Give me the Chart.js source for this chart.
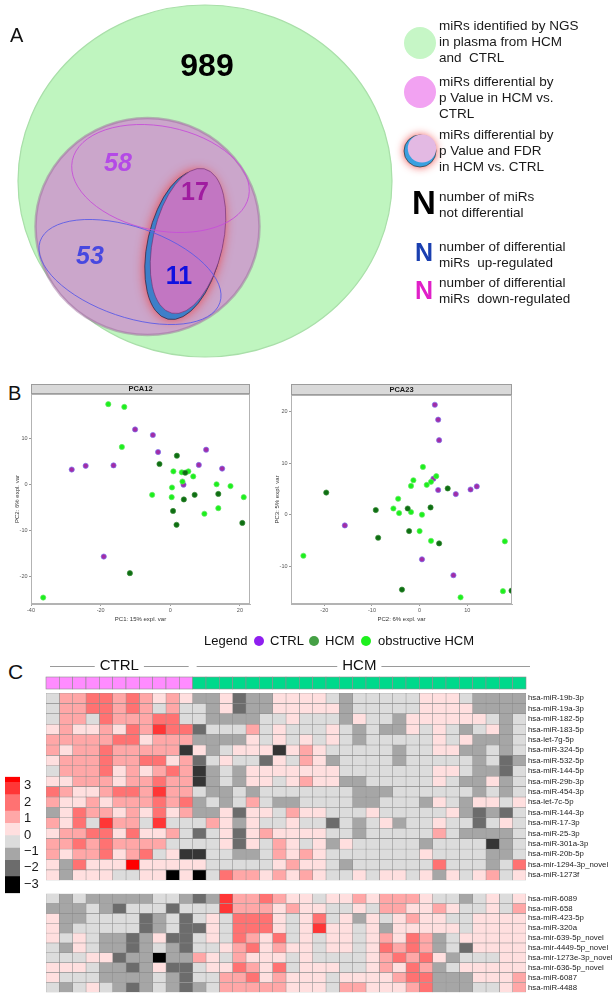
<!DOCTYPE html>
<html>
<head>
<meta charset="utf-8">
<script src="https://cdn.jsdelivr.net/npm/chart.js@4.4.1/dist/chart.umd.min.js"></script>
<style>
  html, body { margin: 0; padding: 0; background: #fff; }
  body { width: 613px; height: 999px; position: relative; overflow: hidden; font-family: 'Liberation Sans', Arial, sans-serif; }
  canvas { position: absolute; }
  .lbl { position: absolute; color: #111; line-height: 1; }
  .leg { position: absolute; top: 633px; font-size: 13px; line-height: 16px; color: #111; white-space: nowrap; }
  .dot { position: absolute; top: 636px; width: 10px; height: 10px; border-radius: 50%; }
</style>
</head>
<body>
<canvas id="venn" width="613" height="380" style="left:0;top:0"></canvas>
<div class="lbl" style="left:8px;top:383px;font-size:20px">B</div>
<canvas id="pca12" width="256" height="255" style="left:0;top:380px"></canvas>
<canvas id="pca23" width="262" height="255" style="left:256px;top:380px"></canvas>
<div class="leg" style="left:204px">Legend</div>
<div class="dot" style="left:254px;background:#8f1fef"></div>
<div class="leg" style="left:270px">CTRL</div>
<div class="dot" style="left:309px;background:#45a045"></div>
<div class="leg" style="left:325px">HCM</div>
<div class="dot" style="left:361px;background:#1ef01e"></div>
<div class="leg" style="left:378px">obstructive HCM</div>
<div class="lbl" style="left:8px;top:661px;font-size:21px">C</div>
<canvas id="heatTop" width="613" height="232" style="left:0;top:655px"></canvas>
<canvas id="heatBottom" width="613" height="112" style="left:0;top:887px"></canvas>
<canvas id="scaleBar" width="46" height="140" style="left:0;top:765px"></canvas>
<script>
// ---- Panel A: Venn counts ----
const vennCounts = [989, 58, 17, 53, 11];

// ---- Panel B: PCA scores [x, y] ----
const pca12Ctrl = [[-10.1,11.9],[-5.0,10.7],[-3.5,7.0],[10.3,7.5],[8.2,4.2],[14.9,3.4],[3.8,-0.1],[-28.3,3.2],[-24.3,4.0],[-16.3,4.1],[-19.1,-15.7]];
const pca12Hcm = [[1.9,6.2],[-3.1,4.4],[4.3,2.5],[3.9,-3.3],[7.0,-2.3],[13.8,-2.1],[0.8,-5.8],[1.8,-8.8],[20.7,-8.4],[-11.6,-19.3]];
const pca12Obs = [[-17.8,17.4],[-13.2,16.8],[-13.9,8.1],[0.9,2.8],[3.3,2.6],[5.2,2.8],[6.6,1.7],[3.5,0.6],[0.5,-0.7],[-5.2,-2.3],[0.4,-2.8],[13.3,0],[17.3,-0.4],[21.1,-2.8],[13.8,-5.2],[9.8,-6.4],[-36.5,-24.6]];
const pca23Ctrl = [[3.2,21.4],[3.9,18.5],[4.1,14.5],[2.9,7.0],[3.9,4.8],[7.6,4.0],[10.7,4.9],[12.0,5.5],[-15.7,-2.1],[0.5,-8.7],[7.1,-11.8]];
const pca23Hcm = [[-19.6,4.3],[-9.2,0.9],[-2.5,1.2],[2.3,1.4],[5.9,5.1],[-2.2,-3.2],[-8.7,-4.5],[4.1,-5.6],[-3.7,-14.6],[19.3,-14.8]];
const pca23Obs = [[0.7,9.3],[3.5,7.5],[2.4,6.4],[-1.3,6.7],[1.5,5.8],[-1.8,5.6],[-4.5,3.1],[-5.5,1.2],[-4.3,0.3],[-1.8,0.5],[0.5,0],[0,-3.2],[2.4,-5.1],[17.9,-5.2],[-24.4,-8.0],[17.5,-14.9],[8.6,-16.1]];
const pca12XTicks = [-40, -20, 0, 20];
const pca12YTicks = [-20, -10, 0, 10];
const pca23XTicks = [-20, -10, 0, 10];
const pca23YTicks = [-10, 0, 10, 20];

// ---- Panel C: heatmap (z-scores) ----
const groupNames = ['CTRL', 'HCM'];
const groupSizes = [11, 25];
const upperGenes = ['hsa-miR-19b-3p','hsa-miR-19a-3p','hsa-miR-182-5p','hsa-miR-183-5p','hsa-let-7g-5p','hsa-miR-324-5p','hsa-miR-532-5p','hsa-miR-144-5p','hsa-miR-29b-3p','hsa-miR-454-3p','hsa-let-7c-5p','hsa-miR-144-3p','hsa-miR-17-3p','hsa-miR-25-3p','hsa-miR-301a-3p','hsa-miR-20b-5p','hsa-mir-1294-3p_novel','hsa-miR-1273f'];
const lowerGenes = ['hsa-miR-6089','hsa-miR-658','hsa-miR-423-5p','hsa-miR-320a','hsa-mir-639-5p_novel','hsa-mir-4449-5p_novel','hsa-mir-1273e-3p_novel','hsa-mir-636-5p_novel','hsa-miR-6087','hsa-miR-4488'];
const upperValues = [
  [-0.4,1,1,2,2,1,2,1,0.4,1,0.4, -1,-1,0.4,-2,-1,-1,0.4,0.4,0.4,0.4,-0.4,-1,-0.4,-0.4,-0.4,-0.4,-0.4,0.4,0.4,0.4,-0.4,-1,-1,-1,-1],
  [-0.4,1,1,2,2,1,2,1,-0.4,1,-0.4, -0.4,-1,0.4,-2,-1,-1,0.4,0.4,0.4,0.4,0.4,-1,-0.4,-0.4,-0.4,-0.4,-0.4,0.4,0.4,0.4,0.4,-1,-1,-1,-1],
  [-0.4,1,1,-0.4,2,1,1,1,2,2,-0.4, -0.4,-1,-1,-1,-1,-0.4,-0.4,0.4,-0.4,-0.4,-0.4,-1,0.4,-0.4,-0.4,-1,0.4,0.4,0.4,0.4,0.4,0.4,-0.4,-1,-0.4],
  [0.4,1,0.4,0.4,1,0.4,2,1,3,2,2, -2,-0.4,-0.4,-0.4,1,-0.4,0.4,-0.4,-0.4,-0.4,0.4,-0.4,-1,-0.4,-1,-1,0.4,-0.4,0.4,-0.4,-1,-0.4,0.4,-1,-0.4],
  [1,1,1,1,1,2,2,0.4,1,1,1, -1,-1,-1,-1,0.4,-0.4,0.4,-0.4,0.4,-0.4,0.4,-0.4,-1,-0.4,-0.4,-0.4,-0.4,-0.4,0.4,-0.4,0.4,-1,-1,-1,-0.4],
  [1,0.4,1,1,2,1,1,1,1,1,-2.7, 0.4,-1,-0.4,0.4,0.4,0.4,-2.7,0.4,1,0.4,-0.4,-0.4,-0.4,-0.4,-0.4,-1,-0.4,-0.4,0.4,0.4,-1,-1,-0.4,-1,-0.4],
  [0.4,1,1,1,2,1,1,2,2,0.4,1, -2,-0.4,0.4,-0.4,-0.4,-2,0.4,-0.4,1,0.4,-1,-0.4,-0.4,-0.4,-0.4,-1,-0.4,-0.4,-0.4,-0.4,-0.4,-1,-0.4,-2,-1],
  [-0.4,1,1,1,2,0.4,1,0.4,1,2,1, -2.7,-1,-0.4,-1,0.4,0.4,0.4,0.4,0.4,0.4,0.4,-0.4,-0.4,-0.4,-0.4,-0.4,-0.4,-0.4,0.4,0.4,-0.4,-1,-1,-2,-0.4],
  [0.4,0.4,1,1,1,0.4,1,1,2,1,1, -2.7,-1,-0.4,-1,0.4,0.4,-0.4,0.4,1,0.4,0.4,-1,-1,-0.4,-0.4,-0.4,-0.4,-0.4,0.4,-0.4,-1,-1,0.4,-1,-0.4],
  [2,1,0.4,0.4,1,2,2,1,3,1,1, -0.4,-1,-1,-0.4,-1,-0.4,-0.4,-0.4,-0.4,-0.4,-0.4,-0.4,-1,-1,-1,-0.4,-0.4,-0.4,-0.4,-0.4,-0.4,-1,-0.4,-1,-0.4],
  [1,0.4,0.4,1,0.4,1,1,1,2,1,2, -1,-0.4,-1,-0.4,1,-0.4,-1,-1,-0.4,-0.4,-0.4,-0.4,-1,-1,-0.4,-0.4,-0.4,-1,0.4,-0.4,-1,0.4,0.4,-0.4,0.4],
  [-1,0.4,2,1,1,0.4,1,0.4,2,0.4,1, -1,-1,0.4,-2,0.4,0.4,-0.4,1,0.4,0.4,-0.4,-0.4,-0.4,0.4,-0.4,-0.4,-0.4,-0.4,-0.4,0.4,-1,-2,-1,-2,-0.4],
  [1,0.4,2,-0.4,3,1,1,-0.4,3,-0.4,-0.4, -0.4,1,0.4,-1,0.4,-0.4,-0.4,0.4,-0.4,-0.4,-2,-0.4,-1,-0.4,0.4,-1,-0.4,-0.4,0.4,-0.4,-0.4,-2,-0.4,0.4,-0.4],
  [0.4,1,1,2,2,0.4,2,0.4,0.4,1,-0.4, -2,-0.4,0.4,-2,0.4,1,0.4,0.4,0.4,0.4,-0.4,-0.4,-1,-0.4,-0.4,-0.4,-0.4,-0.4,1,-0.4,-1,-1,-1,-1,-0.4],
  [1,1,2,1,2,1,1,1,1,-0.4,-0.4, -0.4,-0.4,0.4,-2,0.4,-0.4,1,0.4,-0.4,0.4,-1,0.4,-0.4,-0.4,-0.4,-0.4,-0.4,-1,-0.4,-0.4,-0.4,-0.4,-2.7,-1,-0.4],
  [1,0.4,1,1,2,0.4,1,2,-0.4,0.4,-2.7, -2.7,-0.4,-0.4,-1,-1,-0.4,1,0.4,1,0.4,-0.4,-0.4,-0.4,-0.4,-0.4,-0.4,-0.4,0.4,-0.4,-0.4,-0.4,-0.4,-1,-1,-0.4],
  [0.4,-1,2,0.4,0.4,0.4,3.4,0.4,0.4,0.4,0.4, 0.4,-0.4,-0.4,-0.4,-0.4,-0.4,0.4,1,0.4,0.4,-0.4,-1,-0.4,-0.4,-0.4,-0.4,-0.4,-0.4,2,-0.4,-0.4,-0.4,-1,-0.4,2],
  [0.4,-1,0.4,0.4,0.4,-0.4,-0.4,0.4,0.4,-3.3,0.4, -3.3,-0.4,2,1,1,0.4,1,0.4,1,0.4,-0.4,-0.4,0.4,-0.4,0.4,0.4,-0.4,0.4,-1,0.4,-0.4,0.4,1,-0.4,0.4]
];
const lowerValues = [
  [-0.4,-1,-0.4,-1,-1,-1,-1,-1,-0.4,-0.4,-1, -2,-1,3,1,1,2,1,0.4,0.4,-0.4,0.4,0.4,1,0.4,1,1,1,0.4,-0.4,-0.4,-1,-0.4,0.4,-0.4,0.4],
  [-1,-1,-1,-0.4,-1,-2,-0.4,-0.4,-0.4,-2,-0.4, -0.4,-0.4,3,1,1,1,0.4,1,0.4,0.4,-0.4,-0.4,0.4,-0.4,1,1,0.4,0.4,1,0.4,-0.4,-0.4,0.4,-0.4,1],
  [0.4,-1,-1,-0.4,-0.4,-0.4,-0.4,-2,-1,-0.4,-2, -0.4,0.4,-0.4,2,2,2,0.4,-0.4,0.4,2,-0.4,0.4,-1,0.4,-0.4,0.4,1,0.4,0.4,-0.4,-0.4,0.4,0.4,0.4,0.4],
  [0.4,-1,-0.4,-0.4,-0.4,-0.4,-0.4,-2,-1,-0.4,-2, -2,0.4,-0.4,2,2,2,0.4,-0.4,0.4,3,0.4,0.4,-0.4,0.4,-1,0.4,0.4,0.4,0.4,0.4,-0.4,0.4,0.4,0.4,0.4],
  [0.4,-0.4,0.4,-0.4,-1,-1,-2,-1,0.4,-2,-2, -0.4,0.4,-0.4,2,1,0.4,2,-0.4,0.4,-0.4,0.4,0.4,-0.4,0.4,1,0.4,2,1,-1,-0.4,0.4,0.4,0.4,0.4,0.4],
  [-0.4,-1,0.4,-0.4,-1,-1,-2,-1,-0.4,-1,-2, -0.4,-0.4,0.4,1,2,0.4,1,0.4,0.4,-0.4,0.4,0.4,-0.4,0.4,2,1,2,1,-1,-0.4,-2,0.4,0.4,0.4,0.4],
  [-0.4,-0.4,-0.4,0.4,0.4,-2,-1,-1,-3.3,-1,-1, 1,0.4,-0.4,1,0.4,0.4,0.4,-0.4,0.4,-0.4,-0.4,-0.4,-0.4,0.4,1,2,1,2,0.4,-1,-0.4,-0.4,-0.4,0.4,0.4],
  [0.4,0.4,0.4,-0.4,-1,-1,-2,-1,0.4,-2,-2, -0.4,0.4,0.4,2,1,0.4,2,-0.4,0.4,0.4,0.4,-0.4,-0.4,0.4,1,0.4,2,1,-1,-0.4,0.4,0.4,0.4,0.4,0.4],
  [0.4,-0.4,-0.4,-0.4,-1,-1,-1,-1,-0.4,-1,-2, -0.4,-0.4,1,1,2,0.4,1,0.4,0.4,0.4,-0.4,0.4,0.4,0.4,0.4,1,2,2,-1,-1,-1,0.4,0.4,0.4,1],
  [-0.4,-1,-0.4,0.4,-0.4,-1,-2,-1,-0.4,-1,-2, -1,-0.4,1,1,1,1,1,0.4,0.4,0.4,-0.4,1,1,0.4,0.4,0.4,1,2,-1,-1,-1,-0.4,-0.4,0.4,1]
];
const scaleBreaks = [3.55, 3.25, 2.5, 1.5, 0.75, 0, -0.75, -1.5, -2.5, -3.55];
const scaleTicks = [-3, -2, -1, 0, 1, 2, 3];

const FONT = "'Liberation Sans', Arial, sans-serif";
Chart.defaults.font.family = FONT;

function cellColor(v) {
  if (v >= 3.2) return '#ff0000';
  if (v >= 2.5) return '#ff3636';
  if (v >= 1.5) return '#ff7272';
  if (v >= 0.7) return '#ffa7a7';
  if (v >= 0) return '#ffdfdf';
  if (v >= -0.7) return '#dcdcdc';
  if (v >= -1.5) return '#a6a6a6';
  if (v >= -2.4) return '#6c6c6c';
  if (v >= -3) return '#353535';
  return '#000000';
}

// ---------- Panel A ----------
const vennPlugin = {
  id: 'venn',
  afterDraw(chart) {
    const { ctx, scales: { x, y } } = chart;
    const ell = (cx, cy, rx, ry, rot) => {
      const px = x.getPixelForValue(cx), py = y.getPixelForValue(cy);
      ctx.beginPath();
      ctx.ellipse(px, py, Math.abs(x.getPixelForValue(cx + rx) - px), Math.abs(y.getPixelForValue(cy + ry) - py), rot || 0, 0, Math.PI * 2);
    };
    const text = (s, cx, cy, font, color, align) => {
      ctx.font = font; ctx.fillStyle = color; ctx.textAlign = align || 'center'; ctx.textBaseline = 'middle';
      ctx.fillText(s, x.getPixelForValue(cx), y.getPixelForValue(cy));
    };
    ctx.save();
    // all miRs
    ell(205, 181, 187, 176); ctx.fillStyle = '#bff5bf'; ctx.fill();
    ctx.strokeStyle = '#a9dfa9'; ctx.lineWidth = 1.2; ctx.stroke();
    // p value circle
    ell(147.5, 226.5, 112, 108.5); ctx.fillStyle = '#cba6cb'; ctx.fill();
    ctx.strokeStyle = 'rgba(150,100,150,0.45)'; ctx.lineWidth = 2.5; ctx.stroke();
    // FDR ellipse with glow and blue crescent
    ctx.shadowColor = 'rgba(238,60,60,0.95)'; ctx.shadowBlur = 11;
    ell(184.5, 245, 37, 76, 0.22); ctx.fillStyle = '#3d7fc9'; ctx.fill();
    ctx.shadowBlur = 0; ctx.shadowColor = 'transparent';
    ctx.strokeStyle = '#3a2a45'; ctx.lineWidth = 0.8; ctx.stroke();
    ell(188, 241, 35, 74, 0.22); ctx.fillStyle = '#c276c2'; ctx.fill();
    ctx.strokeStyle = '#6b2b6b'; ctx.lineWidth = 0.6; ctx.stroke();
    // up / down outlines
    ell(160.5, 178.5, 90, 52, 0.2); ctx.strokeStyle = '#c64fd8'; ctx.lineWidth = 0.9; ctx.stroke();
    ell(130, 272, 95, 45, 0.33); ctx.strokeStyle = '#5b5be6'; ctx.lineWidth = 0.9; ctx.stroke();
    // counts
    text('A', 10, 36, '20px ' + FONT, '#111', 'left');
    text(String(vennCounts[0]), 207, 67, 'bold 32px ' + FONT, '#000');
    text(String(vennCounts[1]), 118, 164, 'italic bold 25px ' + FONT, '#b44ae6');
    text(String(vennCounts[2]), 195, 193, 'bold 25px ' + FONT, '#a01ca0');
    text(String(vennCounts[3]), 90, 257, 'italic bold 25px ' + FONT, '#4848e0');
    text(String(vennCounts[4]), 179, 277, 'bold 25px ' + FONT, '#1010e0');
    // legend symbols
    ell(420, 43, 16, 16); ctx.fillStyle = '#c6f6c6'; ctx.fill();
    ell(420, 92, 16, 16); ctx.fillStyle = '#f2a2f2'; ctx.fill();
    ctx.shadowColor = 'rgba(238,60,60,0.95)'; ctx.shadowBlur = 8;
    ell(420, 151, 16, 16); ctx.fillStyle = '#3aa0e0'; ctx.fill();
    ctx.shadowBlur = 0; ctx.shadowColor = 'transparent';
    ctx.strokeStyle = '#333'; ctx.lineWidth = 0.7; ctx.stroke();
    ell(422, 148.5, 14.2, 14); ctx.fillStyle = '#e3b9e3'; ctx.fill();
    text('N', 424, 205, 'bold 33px ' + FONT, '#000');
    text('N', 424, 254, 'bold 25px ' + FONT, '#1a3fb0');
    text('N', 424, 292, 'bold 25px ' + FONT, '#e020c8');
    const lines = [
      [['miRs identified by NGS', 'in plasma from HCM', 'and  CTRL'], 26],
      [['miRs differential by', 'p Value in HCM vs.', 'CTRL'], 82],
      [['miRs differential by', 'p Value and FDR', 'in HCM vs. CTRL'], 135],
      [['number of miRs', 'not differential'], 197],
      [['number of differential', 'miRs  up-regulated'], 247],
      [['number of differential', 'miRs  down-regulated'], 283]
    ];
    lines.forEach(([ls, y0]) => ls.forEach((s, i) => text(s, 439, y0 + i * 16, '13.5px ' + FONT, '#1a1a1a', 'left')));
    ctx.restore();
  }
};

new Chart(document.getElementById('venn'), {
  type: 'scatter',
  data: { datasets: [] },
  options: {
    responsive: false, animation: false,
    layout: { padding: 0, autoPadding: false },
    plugins: { legend: { display: false }, tooltip: { enabled: false } },
    scales: {
      x: { display: false, min: 0, max: 613 },
      y: { display: false, min: 0, max: 380, reverse: true }
    }
  },
  plugins: [vennPlugin]
});

// ---------- Panel B ----------
const stripPlugin = {
  id: 'strip',
  afterDraw(chart, args, o) {
    const { ctx, chartArea: a } = chart;
    ctx.save();
    ctx.strokeStyle = '#b3b3b3'; ctx.lineWidth = 1;
    ctx.strokeRect(a.left + 0.5, a.top + 0.5, a.right - a.left - 1, a.bottom - a.top - 1);
    ctx.fillStyle = '#d9d9d9'; ctx.fillRect(a.left, a.top - o.h, a.right - a.left, o.h);
    ctx.strokeStyle = '#9c9c9c';
    ctx.strokeRect(a.left + 0.5, a.top - o.h + 0.5, a.right - a.left - 1, o.h - 1);
    ctx.fillStyle = '#1a1a1a'; ctx.font = 'bold 7.5px ' + FONT;
    ctx.textAlign = 'center'; ctx.textBaseline = 'middle';
    ctx.fillText(o.text, (a.left + a.right) / 2, a.top - o.h / 2);
    ctx.restore();
  }
};

const toXY = arr => arr.map(p => ({ x: p[0], y: p[1] }));
function pcaChart(id, ctrl, hcm, obs, o) {
  const pt = { borderWidth: 0.7, pointRadius: 2.6, pointHoverRadius: 2.6 };
  const tickFont = { size: 5.5 };
  return new Chart(document.getElementById(id), {
    type: 'scatter',
    data: { datasets: [
      Object.assign({ label: 'HCM', data: toXY(hcm), backgroundColor: '#0e6e12', borderColor: '#3a8c3a' }, pt),
      Object.assign({ label: 'obstructive HCM', data: toXY(obs), backgroundColor: '#1cf01c', borderColor: '#64e664' }, pt),
      Object.assign({ label: 'CTRL', data: toXY(ctrl), backgroundColor: '#a22ca6', borderColor: '#7c74f0' }, pt)
    ]},
    options: {
      responsive: false, animation: false,
      layout: { padding: { top: o.top, right: o.right, left: 0, bottom: 0 }, autoPadding: false },
      plugins: { legend: { display: false }, tooltip: { enabled: false }, strip: { text: o.title, h: o.strip } },
      scales: {
        x: {
          type: 'linear', min: o.xMin, max: o.xMax,
          afterFit: s => { s.height = 31; },
          afterBuildTicks: s => { s.ticks = o.xTicks.map(v => ({ value: v })); },
          grid: { drawOnChartArea: false, tickLength: 2, color: '#999' },
          border: { color: '#b3b3b3' },
          ticks: { font: tickFont, color: '#555', padding: 1.5, maxRotation: 0, autoSkip: false },
          title: { display: true, text: o.xTitle, font: { size: 6 }, color: '#333', padding: { top: 0, bottom: 12.4 } }
        },
        y: {
          type: 'linear', min: o.yMin, max: o.yMax,
          afterFit: s => { s.width = o.yWidth; },
          afterBuildTicks: s => { s.ticks = o.yTicks.map(v => ({ value: v })); },
          grid: { drawOnChartArea: false, tickLength: 2, color: '#999' },
          border: { color: '#b3b3b3' },
          ticks: { font: tickFont, color: '#555', padding: 1.5, autoSkip: false },
          title: { display: true, text: o.yTitle, font: { size: 6 }, color: '#333', padding: { top: o.yTitlePad, bottom: 0 } }
        }
      }
    },
    plugins: [stripPlugin]
  });
}

pcaChart('pca12', pca12Ctrl, pca12Hcm, pca12Obs, {
  title: 'PCA12', top: 14, strip: 10, right: 6, yWidth: 31, yTitlePad: 13.4,
  xMin: -40, xMax: 22.9, yMin: -26, yMax: 19.6,
  xTicks: pca12XTicks, yTicks: pca12YTicks,
  xTitle: 'PC1: 15% expl. var', yTitle: 'PC2: 6% expl. var'
});
pcaChart('pca23', pca23Ctrl, pca23Hcm, pca23Obs, {
  title: 'PCA23', top: 15, strip: 11, right: 6, yWidth: 35, yTitlePad: 17.4,
  xMin: -27, xMax: 19.4, yMin: -17.4, yMax: 23.3,
  xTicks: pca23XTicks, yTicks: pca23YTicks,
  xTitle: 'PC2: 6% expl. var', yTitle: 'PC3: 5% expl. var'
});

// ---------- Panel C ----------
const groupColors = ['#ff8cff', '#00d98b'];
const groupHeaderPlugin = {
  id: 'groupHeader',
  afterDraw(chart) {
    const { ctx, chartArea: a, scales: { x } } = chart;
    ctx.save();
    let start = 0;
    groupNames.forEach((name, g) => {
      const n = groupSizes[g];
      for (let j = start; j < start + n; j++) {
        const x0 = x.getPixelForValue(j), x1 = x.getPixelForValue(j + 1);
        ctx.fillStyle = groupColors[g];
        ctx.fillRect(x0, a.top - 16, x1 - x0, 12);
        ctx.strokeStyle = '#8c8c8c'; ctx.lineWidth = 0.6;
        ctx.strokeRect(x0, a.top - 16, x1 - x0, 12);
      }
      const gx0 = x.getPixelForValue(start), gx1 = x.getPixelForValue(start + n);
      const cx = (gx0 + gx1) / 2, ty = a.top - 27;
      ctx.font = '15px ' + FONT;
      const w = ctx.measureText(name).width;
      ctx.fillStyle = '#111'; ctx.textAlign = 'center'; ctx.textBaseline = 'middle';
      ctx.fillText(name, cx, ty);
      ctx.strokeStyle = '#9a9a9a'; ctx.lineWidth = 1;
      ctx.beginPath();
      ctx.moveTo(gx0 + 4, ty + 0.5); ctx.lineTo(cx - w / 2 - 5, ty + 0.5);
      ctx.moveTo(cx + w / 2 + 5, ty + 0.5); ctx.lineTo(gx1 + (g === groupNames.length - 1 ? 4 : -4), ty + 0.5);
      ctx.stroke();
      start += n;
    });
    ctx.restore();
  }
};

function heatChart(id, genes, values, padTop, padBottom, extra) {
  const nCols = values[0].length;
  const datasets = [];
  for (let j = 0; j < nCols; j++) {
    datasets.push({
      data: values.map(() => 1),
      backgroundColor: values.map(r => cellColor(r[j])),
      borderColor: '#8c8c8c', borderWidth: 0.55, borderSkipped: false,
      barPercentage: 1, categoryPercentage: 1
    });
  }
  return new Chart(document.getElementById(id), {
    type: 'bar',
    data: { labels: genes, datasets },
    options: {
      indexAxis: 'y', responsive: false, animation: false,
      layout: { padding: { left: 46, right: 0, top: padTop, bottom: padBottom }, autoPadding: false },
      plugins: { legend: { display: false }, tooltip: { enabled: false } },
      scales: {
        x: { type: 'linear', stacked: true, min: 0, max: nCols, display: false },
        y: {
          type: 'category', stacked: true, position: 'right',
          afterFit: s => { s.width = 87; },
          grid: { display: false, drawTicks: false, tickLength: 0 }, border: { display: false },
          ticks: { font: { size: 7.8 }, color: '#1a1a1a', padding: 2, autoSkip: false }
        }
      }
    },
    plugins: extra ? [extra] : []
  });
}

heatChart('heatTop', upperGenes, upperValues, 38, 0, groupHeaderPlugin);
heatChart('heatBottom', lowerGenes, lowerValues, 2.5, 2, null);

// colour key
const bands = [];
for (let i = 0; i < scaleBreaks.length - 1; i++) {
  const hi = scaleBreaks[i], lo = scaleBreaks[i + 1];
  bands.push({ data: [[lo, hi]], backgroundColor: cellColor((lo + hi) / 2), grouped: false,
    barPercentage: 1, categoryPercentage: 1, borderWidth: 0 });
}
new Chart(document.getElementById('scaleBar'), {
  type: 'bar',
  data: { labels: [''], datasets: bands },
  options: {
    responsive: false, animation: false,
    layout: { padding: { left: 5, top: 7, bottom: 5, right: 0 }, autoPadding: false },
    plugins: { legend: { display: false }, tooltip: { enabled: false } },
    scales: {
      x: { display: false },
      y: {
        position: 'right', min: scaleBreaks[scaleBreaks.length - 1], max: scaleBreaks[0],
        afterFit: s => { s.width = 26; },
        afterBuildTicks: s => { s.ticks = scaleTicks.map(v => ({ value: v })); },
        grid: { display: false, drawTicks: false, tickLength: 0 }, border: { display: false },
        ticks: { font: { size: 13 }, color: '#1a1a1a', padding: 4,
          callback: v => v < 0 ? '\u2212' + (-v) : String(v) }
      }
    }
  }
});
</script>
</body>
</html>
